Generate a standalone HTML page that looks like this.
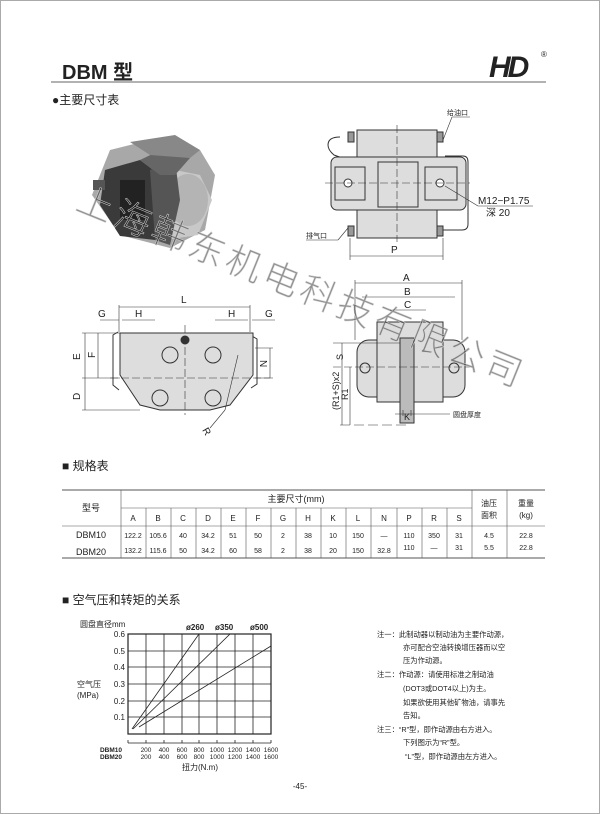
<!DOCTYPE html>
<html><head><meta charset="utf-8"><style>
html,body{margin:0;padding:0;background:#fff}
svg{display:block}
text{font-family:"Liberation Sans","Noto Sans CJK SC",sans-serif;fill:#222}
</style></head><body>
<svg width="600" height="814" viewBox="0 0 600 814" xmlns="http://www.w3.org/2000/svg">
<rect x="0.5" y="0.5" width="599" height="813" fill="#fff" stroke="#aaa"/>
<text x="62" y="79" font-size="20" font-weight="bold" fill="#222">DBM 型</text>
<line x1="51" y1="82" x2="546" y2="82" stroke="#999" stroke-width="1.5"/>
<text x="489" y="77" font-size="30" font-weight="bold" font-style="italic" fill="#111" letter-spacing="-3">HD</text>
<text x="541" y="57" font-size="8">®</text>
<text x="52" y="104" font-size="12">●主要尺寸表</text>

<g>
<polygon points="110,150 150,140 200,150 215,175 205,230 170,248 120,235 92,195" fill="#a8a8a8"/>
<polygon points="150,165 200,175 212,200 198,235 165,240 150,215" fill="#c8c8c8"/>
<ellipse cx="188" cy="200" rx="20" ry="26" fill="#b4b4b4"/>
<polygon points="105,170 140,160 160,175 155,240 120,236 100,205" fill="#3a3a3a"/>
<polygon points="150,170 175,160 180,200 170,245 155,240" fill="#555"/>
<polygon points="140,160 165,148 190,158 175,175 160,175" fill="#666"/>
<polygon points="130,142 175,135 200,150 190,158 150,155" fill="#888"/>
<rect x="120" y="180" width="25" height="40" fill="#222"/>
<rect x="93" y="180" width="12" height="10" fill="#555"/>
</g>

<g stroke="#333" stroke-width="1" fill="#ddd">
<path d="M340,137 q-12,0 -12,8 q0,5 6,10 l28,10" fill="none"/>
<path d="M445,156 l18,0 q5,0 5,6 l0,62 q0,6 -6,6 l-25,0" fill="none"/>
<rect x="357" y="130" width="80" height="32"/>
<rect x="331" y="157" width="135" height="53" rx="6"/>
<rect x="357" y="210" width="80" height="28"/>
<rect x="335" y="167" width="30" height="33"/>
<rect x="425" y="167" width="32" height="33"/>
<rect x="378" y="162" width="40" height="45"/>
<circle cx="348" cy="183" r="4" fill="#fff"/>
<circle cx="440" cy="183" r="4" fill="#fff"/>
<rect x="348" y="132" width="6" height="10" fill="#999"/>
<rect x="437" y="132" width="6" height="10" fill="#999"/>
<rect x="348" y="226" width="6" height="10" fill="#999"/>
<rect x="437" y="226" width="6" height="10" fill="#999"/>
</g>
<g stroke="#333" stroke-width="0.6" fill="none">
<line x1="397" y1="125" x2="397" y2="242" stroke-dasharray="8,3"/>
<line x1="325" y1="183" x2="470" y2="183" stroke-dasharray="8,3"/>
<line x1="350" y1="238" x2="350" y2="260"/><line x1="443" y1="238" x2="443" y2="260"/>
<line x1="350" y1="256" x2="443" y2="256"/>
<line x1="443" y1="140" x2="452" y2="117"/><line x1="452" y1="117" x2="470" y2="117"/>
<line x1="445" y1="186" x2="478" y2="206"/><line x1="478" y1="206" x2="533" y2="206"/>
<line x1="348" y1="228" x2="338" y2="240"/><line x1="306" y1="240" x2="338" y2="240"/>
</g>
<text x="447" y="115" font-size="7">给油口</text>
<text x="478" y="204" font-size="10" fill="#333">M12−P1.75</text>
<text x="486" y="216" font-size="10" fill="#333">深 20</text>
<text x="306" y="238" font-size="7">排气口</text>
<text x="391" y="253" font-size="10">P</text>

<g stroke="#333" stroke-width="1" fill="#ddd">
<path d="M118,332 l-5,3 l0,50 l6,5" fill="none"/>
<path d="M252,336 l5,3 l0,45 l-6,4" fill="none"/>
<polygon points="120,333 253,333 253,375 230,405 210,410 160,410 140,405 120,375"/>
<circle cx="170" cy="355" r="8"/><circle cx="213" cy="355" r="8"/>
<circle cx="160" cy="398" r="8"/><circle cx="213" cy="398" r="8"/>
<circle cx="185" cy="340" r="4" fill="#333"/>
</g>
<g stroke="#333" stroke-width="0.6" fill="none">
<line x1="119" y1="305" x2="119" y2="332"/><line x1="250" y1="305" x2="250" y2="332"/>
<line x1="119" y1="307" x2="250" y2="307"/>
<line x1="100" y1="320" x2="119" y2="320"/><line x1="122" y1="320" x2="155" y2="320"/>
<line x1="215" y1="320" x2="248" y2="320"/><line x1="252" y1="320" x2="275" y2="320"/>
<line x1="85" y1="333" x2="85" y2="410"/><line x1="98" y1="333" x2="98" y2="378"/>
<line x1="82" y1="333" x2="120" y2="333"/><line x1="82" y1="378" x2="120" y2="378"/><line x1="82" y1="410" x2="140" y2="410"/>
<line x1="270" y1="348" x2="270" y2="378"/><line x1="255" y1="348" x2="273" y2="348"/><line x1="255" y1="378" x2="273" y2="378"/>
<line x1="110" y1="378" x2="270" y2="378" stroke-dasharray="8,3"/>
<line x1="185" y1="325" x2="185" y2="415" stroke-dasharray="8,3"/>
<line x1="238" y1="355" x2="225" y2="410"/><line x1="225" y1="410" x2="210" y2="428"/>
</g>
<text x="181" y="303" font-size="10">L</text>
<text x="98" y="317" font-size="10">G</text><text x="135" y="317" font-size="10">H</text>
<text x="228" y="317" font-size="10">H</text><text x="265" y="317" font-size="10">G</text>
<text x="80" y="360" font-size="10" transform="rotate(-90 80 360)">E</text>
<text x="95" y="358" font-size="10" transform="rotate(-90 95 358)">F</text>
<text x="80" y="400" font-size="10" transform="rotate(-90 80 400)">D</text>
<text x="260" y="360" font-size="10" transform="rotate(90 260 360)">N</text>
<text x="202" y="430" font-size="10" transform="rotate(60 202 430)">R</text>

<g stroke="#333" stroke-width="1" fill="#ddd">
<rect x="357" y="340" width="108" height="57" rx="12"/>
<rect x="377" y="322" width="66" height="80"/>
<rect x="400" y="338" width="14" height="85" fill="#bbb"/>
<circle cx="365" cy="368" r="5"/><circle cx="454" cy="368" r="5"/>
</g>
<g stroke="#333" stroke-width="0.6" fill="none">
<line x1="355" y1="280" x2="355" y2="340"/><line x1="462" y1="280" x2="462" y2="340"/>
<line x1="355" y1="283" x2="462" y2="283"/>
<line x1="362" y1="297" x2="455" y2="297"/>
<line x1="390" y1="310" x2="426" y2="310"/>
<line x1="333" y1="343" x2="400" y2="343"/><line x1="333" y1="367" x2="470" y2="367" stroke-dasharray="8,3"/>
<line x1="342" y1="343" x2="342" y2="425"/><line x1="350" y1="367" x2="350" y2="425"/>
<line x1="340" y1="425" x2="410" y2="425" stroke-dasharray="10,4"/>
<line x1="403" y1="410" x2="403" y2="416"/><line x1="411" y1="410" x2="411" y2="416"/>
<line x1="395" y1="414" x2="450" y2="414"/>
</g>
<text x="403" y="281" font-size="10">A</text>
<text x="404" y="295" font-size="10">B</text>
<text x="404" y="308" font-size="10">C</text>
<text x="343" y="360" font-size="9" transform="rotate(-90 343 360)">S</text>
<text x="339" y="410" font-size="9" transform="rotate(-90 339 410)">(R1+S)x2</text>
<text x="348" y="400" font-size="9" transform="rotate(-90 348 400)">R1</text>
<text x="404" y="420" font-size="9">K</text>
<text x="453" y="417" font-size="7">圆盘厚度</text>

<g transform="rotate(22 80 195)" font-size="36">
<text x="80" y="210" fill="#ffffff" fill-opacity="0.5" stroke="#d4d4d4" stroke-width="0.5" style="font-family:'Noto Sans CJK SC',sans-serif;font-weight:300" letter-spacing="4">上海韩东机电科技有限公司</text>
</g>

<text x="62" y="470" font-size="12">■ 规格表</text>
<g stroke="#555" stroke-width="0.6" fill="none">
<line x1="62" y1="490" x2="545" y2="490" stroke-width="1"/>
<line x1="121" y1="508" x2="472" y2="508"/>
<line x1="62" y1="526" x2="545" y2="526"/>
<line x1="62" y1="558" x2="545" y2="558" stroke-width="1"/>
<line x1="121" y1="490" x2="121" y2="558"/>
<line x1="472" y1="490" x2="472" y2="558"/>
<line x1="507" y1="490" x2="507" y2="558"/>
<line x1="146" y1="508" x2="146" y2="558"/><line x1="171" y1="508" x2="171" y2="558"/><line x1="196" y1="508" x2="196" y2="558"/>
<line x1="221" y1="508" x2="221" y2="558"/><line x1="246" y1="508" x2="246" y2="558"/><line x1="271" y1="508" x2="271" y2="558"/>
<line x1="296" y1="508" x2="296" y2="558"/><line x1="321" y1="508" x2="321" y2="558"/><line x1="346" y1="508" x2="346" y2="558"/>
<line x1="371" y1="508" x2="371" y2="558"/><line x1="397" y1="508" x2="397" y2="558"/><line x1="422" y1="508" x2="422" y2="558"/>
<line x1="447" y1="508" x2="447" y2="558"/>
</g>
<g font-size="8" text-anchor="middle" fill="#333">
<text x="91" y="511" font-size="9">型号</text>
<text x="296" y="502" font-size="9">主要尺寸(mm)</text>
<text x="133" y="521">A</text><text x="158" y="521">B</text><text x="183" y="521">C</text><text x="208" y="521">D</text>
<text x="233" y="521">E</text><text x="258" y="521">F</text><text x="283" y="521">G</text><text x="308" y="521">H</text>
<text x="333" y="521">K</text><text x="358" y="521">L</text><text x="384" y="521">N</text><text x="409" y="521">P</text>
<text x="434" y="521">R</text><text x="459" y="521">S</text>
<text x="489" y="506">油压</text><text x="489" y="518">面积</text>
<text x="526" y="506">重量</text><text x="526" y="518">(kg)</text>
<text x="91" y="538" font-size="9">DBM10</text><text x="91" y="555" font-size="9">DBM20</text>
<g font-size="7">
<text x="133" y="538">122.2</text><text x="158" y="538">105.6</text><text x="183" y="538">40</text><text x="208" y="538">34.2</text>
<text x="233" y="538">51</text><text x="258" y="538">50</text><text x="283" y="538">2</text><text x="308" y="538">38</text>
<text x="333" y="538">10</text><text x="358" y="538">150</text><text x="384" y="538">—</text><text x="409" y="538">110</text>
<text x="434" y="538">350</text><text x="459" y="538">31</text><text x="489" y="538">4.5</text><text x="526" y="538">22.8</text>
<text x="133" y="553">132.2</text><text x="158" y="553">115.6</text><text x="183" y="553">50</text><text x="208" y="553">34.2</text>
<text x="233" y="553">60</text><text x="258" y="553">58</text><text x="283" y="553">2</text><text x="308" y="553">38</text>
<text x="333" y="553">20</text><text x="358" y="553">150</text><text x="384" y="553">32.8</text><text x="409" y="550">110</text>
<text x="434" y="550">—</text><text x="459" y="550">31</text><text x="489" y="550">5.5</text><text x="526" y="550">22.8</text>
</g>
</g>

<text x="62" y="604" font-size="12">■ 空气压和转矩的关系</text>
<text x="80" y="627" font-size="8">圆盘直径mm</text>
<text x="186" y="630" font-size="8" font-weight="bold">ø260</text>
<text x="215" y="630" font-size="8" font-weight="bold">ø350</text>
<text x="250" y="630" font-size="8" font-weight="bold">ø500</text>
<g stroke="#222" fill="none">
<rect x="128" y="634" width="143" height="100" stroke-width="1.2"/>
<g stroke-width="0.8">
<line x1="146" y1="634" x2="146" y2="734"/><line x1="164" y1="634" x2="164" y2="734"/><line x1="182" y1="634" x2="182" y2="734"/>
<line x1="199" y1="634" x2="199" y2="734"/><line x1="217" y1="634" x2="217" y2="734"/><line x1="235" y1="634" x2="235" y2="734"/>
<line x1="253" y1="634" x2="253" y2="734"/>
<line x1="128" y1="651" x2="271" y2="651"/><line x1="128" y1="667" x2="271" y2="667"/><line x1="128" y1="684" x2="271" y2="684"/>
<line x1="128" y1="701" x2="271" y2="701"/><line x1="128" y1="717" x2="271" y2="717"/>
<line x1="132" y1="729" x2="199" y2="634"/><line x1="133" y1="729" x2="230" y2="634"/><line x1="139" y1="727" x2="271" y2="646"/>
<line x1="128" y1="743" x2="271" y2="743"/>
<line x1="128" y1="740" x2="128" y2="743"/><line x1="146" y1="740" x2="146" y2="743"/><line x1="164" y1="740" x2="164" y2="743"/>
<line x1="182" y1="740" x2="182" y2="743"/><line x1="199" y1="740" x2="199" y2="743"/><line x1="217" y1="740" x2="217" y2="743"/>
<line x1="235" y1="740" x2="235" y2="743"/><line x1="253" y1="740" x2="253" y2="743"/><line x1="271" y1="740" x2="271" y2="743"/>
</g></g>
<g font-size="8" text-anchor="end">
<text x="125" y="637">0.6</text><text x="125" y="654">0.5</text><text x="125" y="670">0.4</text>
<text x="125" y="687">0.3</text><text x="125" y="704">0.2</text><text x="125" y="720">0.1</text>
</g>
<text x="77" y="687" font-size="8">空气压</text>
<text x="77" y="698" font-size="8">(MPa)</text>
<g font-size="6.5" text-anchor="middle" fill="#333">
<text x="111" y="752" font-weight="bold">DBM10</text><text x="111" y="759" font-weight="bold">DBM20</text>
<text x="146" y="752">200</text><text x="164" y="752">400</text><text x="182" y="752">600</text><text x="199" y="752">800</text>
<text x="217" y="752">1000</text><text x="235" y="752">1200</text><text x="253" y="752">1400</text><text x="271" y="752">1600</text>
<text x="146" y="759">200</text><text x="164" y="759">400</text><text x="182" y="759">600</text><text x="199" y="759">800</text>
<text x="217" y="759">1000</text><text x="235" y="759">1200</text><text x="253" y="759">1400</text><text x="271" y="759">1600</text>
<text x="200" y="770" font-size="8">扭力(N.m)</text>
</g>

<g font-size="7.3" fill="#333">
<text x="377" y="637">注一：此制动器以制动油为主要作动源，</text>
<text x="403" y="650">亦可配合空油转换增压器而以空</text>
<text x="403" y="663">压为作动源。</text>
<text x="377" y="677">注二：作动源：请使用标准之制动油</text>
<text x="403" y="691">(DOT3或DOT4以上)为主。</text>
<text x="403" y="705">如果欲使用其他矿物油，请事先</text>
<text x="403" y="718">告知。</text>
<text x="377" y="732">注三：“R”型，即作动源由右方进入。</text>
<text x="403" y="745">下列图示为“R”型。</text>
<text x="405" y="759">“L”型，即作动源由左方进入。</text>
</g>
<text x="300" y="789" font-size="8" text-anchor="middle">-45-</text>
</svg>
</body></html>
